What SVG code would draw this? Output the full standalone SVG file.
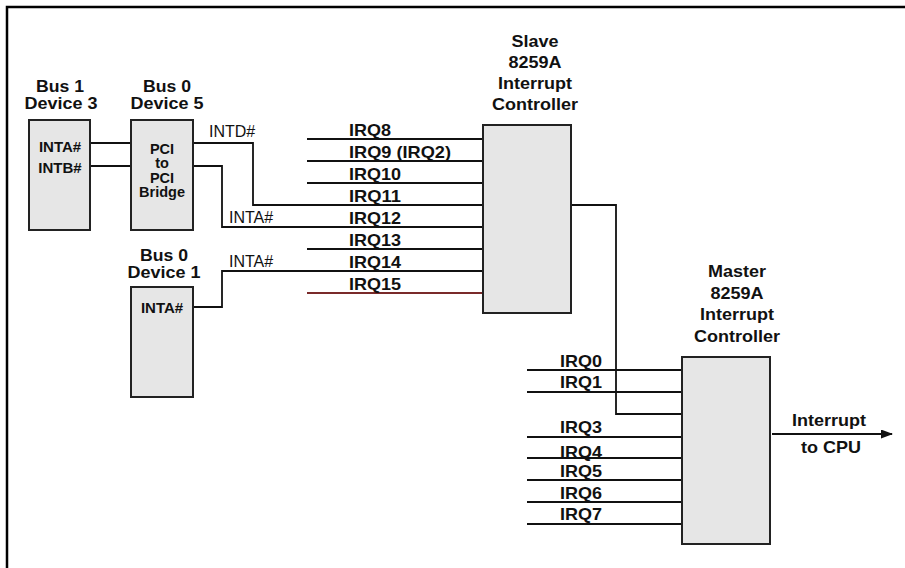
<svg xmlns="http://www.w3.org/2000/svg" width="905" height="568" viewBox="0 0 905 568">
<style>
.frame{fill:none;stroke:#000;stroke-width:2.5}
.box{fill:#e6e6e6;stroke:#222;stroke-width:2}
.w{fill:none;stroke:#111;stroke-width:1.8}
.red{stroke:#7a2a2a}
.lb{font-family:"Liberation Sans",Arial,sans-serif;font-weight:bold;font-size:16.5px;fill:#111}
.c{text-anchor:middle}
.bx{font-family:"Liberation Sans",Arial,sans-serif;font-weight:bold;font-size:15px;fill:#111;text-anchor:middle}
.bxs{font-family:"Liberation Sans",Arial,sans-serif;font-weight:bold;font-size:14.5px;fill:#111;text-anchor:middle}
.rg{font-family:"Liberation Sans",Arial,sans-serif;font-size:16px;fill:#111}
</style>
<defs>
<marker id="arr" markerWidth="13" markerHeight="10" refX="11" refY="4.5" orient="auto" markerUnits="userSpaceOnUse">
<path d="M0,0 L12,4.5 L0,9 Z" fill="#111"/>
</marker>
</defs>
<rect width="905" height="568" fill="#fff"/>
<path class="frame" d="M7,568 V7 H905"/>

<g id="connectors">
<path class="w" d="M90,143 H131"/>
<path class="w" d="M90,166 H131"/>
<path class="w" d="M193,143 H253 V205 H483"/>
<path class="w" d="M193,166 H222 V227 H483"/>
<path class="w" d="M193,307 H222 V271 H483"/>
<path class="w" d="M307,139 H483"/>
<path class="w" d="M307,161 H483"/>
<path class="w" d="M307,183 H483"/>
<path class="w" d="M307,249 H483"/>
<path class="w red" d="M307,293 H483"/>
<path class="w" d="M571,205 H616 V414 H682"/>
<path class="w" d="M527,370 H682"/>
<path class="w" d="M527,392 H682"/>
<path class="w" d="M527,437 H682"/>
<path class="w" d="M527,458 H682"/>
<path class="w" d="M527,480 H682"/>
<path class="w" d="M527,502 H682"/>
<path class="w" d="M527,524 H682"/>
<path class="w" d="M772,434 H892" marker-end="url(#arr)"/>
<text class="rg" x="209" y="137">INTD#</text>
<text class="rg" x="229" y="223">INTA#</text>
<text class="rg" x="229" y="267">INTA#</text>
<text class="lb" x="349" y="136" textLength="42" lengthAdjust="spacingAndGlyphs">IRQ8</text>
<text class="lb" x="349" y="158" textLength="102" lengthAdjust="spacingAndGlyphs">IRQ9 (IRQ2)</text>
<text class="lb" x="349" y="180" textLength="52" lengthAdjust="spacingAndGlyphs">IRQ10</text>
<text class="lb" x="349" y="202" textLength="52" lengthAdjust="spacingAndGlyphs">IRQ11</text>
<text class="lb" x="349" y="224" textLength="52" lengthAdjust="spacingAndGlyphs">IRQ12</text>
<text class="lb" x="349" y="246" textLength="52" lengthAdjust="spacingAndGlyphs">IRQ13</text>
<text class="lb" x="349" y="268" textLength="52" lengthAdjust="spacingAndGlyphs">IRQ14</text>
<text class="lb" x="349" y="290" textLength="52" lengthAdjust="spacingAndGlyphs">IRQ15</text>
<text class="lb" x="560" y="367" textLength="42" lengthAdjust="spacingAndGlyphs">IRQ0</text>
<text class="lb" x="560" y="388" textLength="42" lengthAdjust="spacingAndGlyphs">IRQ1</text>
<text class="lb" x="560" y="433" textLength="42" lengthAdjust="spacingAndGlyphs">IRQ3</text>
<text class="lb" x="560" y="458" textLength="42" lengthAdjust="spacingAndGlyphs">IRQ4</text>
<text class="lb" x="560" y="477" textLength="42" lengthAdjust="spacingAndGlyphs">IRQ5</text>
<text class="lb" x="560" y="499" textLength="42" lengthAdjust="spacingAndGlyphs">IRQ6</text>
<text class="lb" x="560" y="520" textLength="42" lengthAdjust="spacingAndGlyphs">IRQ7</text>
<text class="lb c" x="829" y="426" textLength="74" lengthAdjust="spacingAndGlyphs">Interrupt</text>
<text class="lb c" x="831" y="453" textLength="60" lengthAdjust="spacingAndGlyphs">to CPU</text>
</g>

<g id="bus1-device3">
<text class="lb c" x="60" y="92" textLength="48" lengthAdjust="spacingAndGlyphs">Bus 1</text>
<text class="lb c" x="61" y="109" textLength="73" lengthAdjust="spacingAndGlyphs">Device 3</text>
<rect class="box" x="29" y="120" width="61" height="110"/>
<text class="bx" x="60" y="152">INTA#</text>
<text class="bx" x="60" y="173">INTB#</text>
</g>

<g id="bus0-device5">
<text class="lb c" x="167" y="92" textLength="48" lengthAdjust="spacingAndGlyphs">Bus 0</text>
<text class="lb c" x="167" y="109" textLength="73" lengthAdjust="spacingAndGlyphs">Device 5</text>
<rect class="box" x="131" y="120" width="62" height="110"/>
<text class="bxs" x="162" y="154">PCI</text>
<text class="bxs" x="162" y="168">to</text>
<text class="bxs" x="162" y="183">PCI</text>
<text class="bxs" x="162" y="197">Bridge</text>
</g>

<g id="bus0-device1">
<text class="lb c" x="164" y="261" textLength="48" lengthAdjust="spacingAndGlyphs">Bus 0</text>
<text class="lb c" x="164" y="278" textLength="73" lengthAdjust="spacingAndGlyphs">Device 1</text>
<rect class="box" x="131" y="287" width="62" height="110"/>
<text class="bx" x="162" y="313">INTA#</text>
</g>

<g id="slave-8259a">
<text class="lb c" x="535" y="47" textLength="47" lengthAdjust="spacingAndGlyphs">Slave</text>
<text class="lb c" x="535" y="68" textLength="53" lengthAdjust="spacingAndGlyphs">8259A</text>
<text class="lb c" x="535" y="89" textLength="74" lengthAdjust="spacingAndGlyphs">Interrupt</text>
<text class="lb c" x="535" y="110" textLength="86" lengthAdjust="spacingAndGlyphs">Controller</text>
<rect class="box" x="483" y="125" width="88" height="188"/>
</g>

<g id="master-8259a">
<text class="lb c" x="737" y="277" textLength="58" lengthAdjust="spacingAndGlyphs">Master</text>
<text class="lb c" x="737" y="299" textLength="53" lengthAdjust="spacingAndGlyphs">8259A</text>
<text class="lb c" x="737" y="320" textLength="74" lengthAdjust="spacingAndGlyphs">Interrupt</text>
<text class="lb c" x="737" y="342" textLength="86" lengthAdjust="spacingAndGlyphs">Controller</text>
<rect class="box" x="682" y="357" width="88" height="187"/>
</g>
</svg>
